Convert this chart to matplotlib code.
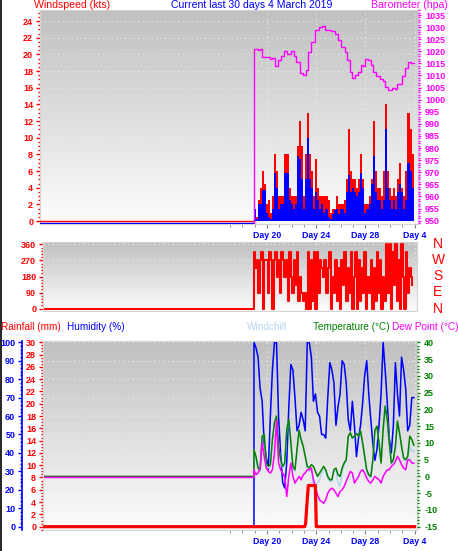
import numpy as np
import matplotlib.pyplot as plt
from matplotlib.colors import LinearSegmentedColormap
from matplotlib.lines import Line2D
from matplotlib.ticker import MultipleLocator, FixedLocator, FormatStrFormatter

plt.rcParams['font.family'] = ['Liberation Sans', 'DejaVu Sans']
plt.rcParams['font.weight'] = 'bold'

# Eje X en dias (20 = 20 feb, 32 = 4 marzo)
day_ticks = [20, 24, 28, 32]
day_labels = ['Day 20', 'Day 24', 'Day 28', 'Day 4']
day_minor = list(range(17, 33))

# Viento (kts), un valor cada 4 horas desde el inicio de datos
wind_start = 18.92
gust_kts = [1.5, 0.5, 2.5, 4, 6, 4.5, 2, 2.5, 1, 3,
            8, 6, 3, 3, 3, 8, 8, 4, 3, 3,
            3, 9, 12, 9, 3, 8, 13, 8, 6, 3,
            7.5, 4, 3, 3, 3, 3, 2.5, 1, 1.5, 1.5,
            3, 2, 2, 2, 2.5, 5, 11, 6, 5, 5,
            4, 5, 8, 5, 2, 2, 3, 5, 12, 6,
            4, 4, 3, 6, 14, 6, 4, 3, 4, 3,
            5, 7, 4, 3, 6, 13, 11, 8]
avg_kts = [1.5, 0.3, 2.0, 2.0, 3.7, 3.7, 1.0, 0.5, 0.3, 1.5,
           5.8, 4, 1.5, 2, 2, 5.8, 5.8, 2.5, 2, 1.5,
           2, 7.8, 7.5, 5, 1.5, 5, 10, 5, 4, 1.5,
           3.5, 2.5, 1.5, 2, 1, 1.5, 0.5, 0.3, 0.8, 1.3,
           1.5, 0.8, 1.5, 1.5, 1.0, 3.5, 5.5, 3.5, 4, 3.5,
           3, 3.5, 5.8, 4, 1, 1.5, 2, 4.5, 7.8, 3.5,
           2.5, 2.5, 1.5, 2.5, 11, 4, 2.5, 1.5, 2.5, 1.5,
           3.5, 4.5, 3.5, 1.5, 2.5, 7, 6, 4]

# Barometro (hpa)
baro_days = [1.0, 18.92, 18.92, 19.27, 19.46, 19.62, 19.95, 20.22, 20.41, 20.68,
             20.89, 21.17, 21.38, 21.65, 21.98, 22.2, 22.38, 22.66, 22.93, 23.2,
             23.33, 23.6, 23.93, 24.2, 24.47, 24.69, 24.96, 25.23, 25.5, 25.77,
             26.04, 26.31, 26.53, 26.72, 26.91, 27.13, 27.4, 27.62, 27.8, 27.99,
             28.21, 28.43, 28.62, 28.89, 29.16, 29.43, 29.62, 29.84, 30.16, 30.38,
             30.6, 30.79, 30.98, 31.19, 31.46, 31.73, 31.95]
baro_hpa = [0, 0, 1020.8, 1020.5, 1020.8, 1017.8, 1017.5, 1016.7, 1017.1, 1013.9,
            1016.4, 1018.1, 1020.3, 1018.8, 1020.1, 1018.1, 1015.7, 1010.9, 1010.2, 1012.3,
            1019.8, 1024.0, 1028.8, 1030.2, 1030.6, 1028.6, 1028.8, 1028.2, 1027.2, 1024.7,
            1021.9, 1019.8, 1016.4, 1011.6, 1008.8, 1010.2, 1011.6, 1014.3, 1013.9, 1016.7,
            1016.4, 1014.3, 1011.6, 1009.8, 1008.5, 1007.9, 1005.4, 1004.0, 1004.7, 1004.4,
            1006.5, 1006.4, 1009.6, 1013.0, 1015.7, 1015.0, 1015.0]

# Direccion del viento (grados), un valor cada 3 horas
dir_start = 18.92
wind_dir = [315, 225, 270, 90, 270, 315, 0, 270,
            270, 90, 315, 270, 0, 270, 315, 180,
            270, 90, 315, 270, 180, 270, 45, 315,
            180, 90, 270, 135, 315, 45, 180, 90,
            45, 90, 0, 315, 0, 270, 45, 315,
            0, 315, 90, 270, 225, 180, 270, 90,
            225, 315, 0, 180, 90, 270, 45, 225,
            0, 270, 135, 315, 45, 225, 90, 315,
            0, 180, 315, 0, 270, 45, 225, 90,
            315, 0, 180, 90, 270, 0, 225, 45,
            315, 90, 270, 0, 180, 45, 360, 90,
            360, 0, 315, 135, 360, 45, 270, 0,
            360, 180, 0, 315, 90, 225, 180, 135]

# Humedad (%), temperatura, punto de rocio y sensacion termica (C), cada 4 horas
met_start = 18.94
humidity = [100, 97, 92, 75, 68, 45, 38, 31, 60, 85,
            100, 100, 60, 40, 24, 21, 35, 65, 88, 85,
            70, 52, 55, 62, 58, 52, 100, 100, 92, 68,
            72, 62, 60, 50, 50, 48, 70, 89, 85, 78,
            55, 65, 72, 90, 88, 78, 58, 52, 68, 55,
            38, 48, 55, 67, 82, 90, 72, 58, 45, 36,
            42, 55, 72, 100, 85, 68, 48, 40, 55, 89,
            72, 60, 92, 85, 75, 52, 55, 70, 70]
temperature = [7.9, 5.9, 2.5, 2.0, 12.0, 12.5, 4.0, 3.0, 3.5, 11.0,
               16.0, 18.0, 9.0, 5.0, 3.0, 4.0, 14.0, 17.0, 10.0, 3.0,
               2.0, 8.0, 13.8, 11.0, 9.0, 6.0, 3.0, 2.5, 3.5, 3.0,
               1.5, 0.0, 1.0, 2.0, 3.0, 2.0, 0.0, -1.0, -1.0, 2.0,
               2.5, 0.5, 0.0, 2.5, 4.0, 5.0, 12.0, 13.0, 11.5, 12.0,
               12.8, 12.0, 13.5, 10.0, 6.0, 2.0, 0.5, 0.0, 5.0, 13.8,
               15.0, 10.0, 4.0, 14.0, 21.0, 17.0, 10.0, 4.0, 5.0, 9.0,
               16.5, 13.0, 9.0, 5.5, 5.0, 6.0, 12.0, 11.0, 9.3]
dew_point = [2.0, 0.5, 1.0, 2.5, 10.0, 6.0, 2.5, 1.5, 1.0, 2.0,
             7.0, 16.8, 4.0, 2.0, 1.0, 0.0, -6.0, 0.0, 4.0, 0.0,
             -2.0, -1.0, 0.0, -1.0, 0.5, 1.0, 2.0, 2.0, 2.5, -1.0,
             -3.0, -5.5, -7.0, -7.5, -8.0, -7.0, -5.0, -4.0, -3.5, -4.0,
             -5.0, -6.0, -4.5, -4.0, -3.0, -1.5, 0.0, 1.5, 1.0, -2.0,
             -1.0, 0.0, 1.5, 2.0, 1.0, -0.5, -1.5, -2.0, -1.0, 0.0,
             -0.5, -1.0, -2.0, 0.0, 1.0, 2.0, 2.0, 3.0, 3.5, 4.5,
             6.0, 5.0, 3.5, 2.5, 2.0, 4.9, 5.0, 4.0, 3.9]
windchill = [7.9, 5.0, 2.0, 1.5, 12.0, 12.5, 3.5, 2.5, 3.0, 11.0,
             16.0, 18.0, 9.0, 4.5, 2.5, 4.0, 14.0, 17.0, 10.0, 2.5,
             1.5, 8.0, 13.8, 11.0, 9.0, 6.0, 2.5, 1.5, 2.0, -2.5,
             -3.0, -2.0, -1.0, 1.0, 2.5, 1.5, -0.5, -1.5, -1.5, 1.5,
             2.0, -2.0, -3.0, 1.5, 3.5, 4.5, 12.0, 13.0, 11.0, 12.0,
             12.8, 12.0, 13.5, 10.0, 5.5, 1.5, 0.0, -0.5, 4.5, 13.8,
             15.0, 10.0, 3.5, 14.0, 21.0, 17.0, 10.0, 3.5, 4.5, 9.0,
             16.5, 13.0, 9.0, 5.0, 4.5, 5.5, 9.0, 7.5, 7.5]

# Lluvia (mm)
rain_days = [1.0, 23.06, 23.14, 23.25, 23.36, 23.93, 24.01, 32.0]
rain_mm = [0, 0, 0.5, 3.8, 6.7, 6.7, 0, 0]

# Colores
RED = '#ff0000'
BLUE = '#0000ff'
MAGENTA = '#ff00ff'
GREEN = '#008000'
CHILL = '#b4d4f4'
FRAME = '#d4d4d4'

W, H = 458, 551
PT = 72 / 100  # puntos por pixel
fig = plt.figure(figsize=(W / 100, H / 100), dpi=100)

# Escala horizontal del original: Day 20 en x=267 px, 12.3 px por dia
def px_to_day(x):
    return 20 + (x - 267) / 12.3

def axes_px(left, top, right, bottom):
    ax = fig.add_axes([left / W, 1 - bottom / H, (right - left) / W, (bottom - top) / H])
    return ax

grad = LinearSegmentedColormap.from_list('grad', ['#c0c0c0', '#fdfdfd'])

def background(ax):
    ax.imshow(np.linspace(0, 1, 256).reshape(-1, 1), extent=[0, 1, 0, 1],
              transform=ax.transAxes, aspect='auto', cmap=grad, zorder=0)
    ax.set_axisbelow(True)
    for s in ax.spines.values():
        s.set_color(FRAME)

def x_axis(ax, left, right, labels):
    ax.set_xlim(px_to_day(left), px_to_day(right))
    ax.xaxis.set_major_locator(FixedLocator(day_ticks))
    ax.xaxis.set_minor_locator(FixedLocator(day_minor))
    ax.tick_params(axis='x', which='major', colors='#808080', length=4 * PT, pad=2,
                   labelsize=6.3, labelcolor=BLUE)
    ax.tick_params(axis='x', which='minor', colors='#808080', length=3 * PT)
    if labels:
        ax.set_xticklabels(day_labels)
    else:
        ax.tick_params(axis='x', which='both', length=0, labelbottom=False)
    ax.grid(axis='x', which='major', color='#eeeeee', linestyle=(0, (1, 3)), linewidth=0.8)

def y_axis(ax, color, major, minor):
    ax.yaxis.set_major_locator(MultipleLocator(major))
    ax.yaxis.set_minor_locator(MultipleLocator(minor))
    ax.yaxis.set_major_formatter(FormatStrFormatter('%d'))
    ax.tick_params(axis='y', which='major', colors=color, length=4 * PT, width=1, pad=2,
                   labelsize=6.5)
    ax.tick_params(axis='y', which='minor', colors=color, length=2 * PT, width=1)

def hgrid(ax):
    ax.grid(axis='y', which='major', color='#eeeeee', linestyle=(0, (1, 3)), linewidth=0.8)

# ---------- Panel superior: viento y barometro ----------
ax_w = axes_px(40, 10, 418, 224)
background(ax_w)
wind_days = wind_start + np.arange(len(gust_kts)) / 6
ax_w.bar(wind_days, gust_kts, width=1 / 6, align='edge', color=RED, linewidth=0, zorder=2)
ax_w.bar(wind_days, avg_kts, width=1 / 6, align='edge', color=BLUE, linewidth=0, zorder=3)
ax_w.plot([1.0, wind_start], [-0.28, -0.28], color=BLUE, lw=1, zorder=3)
ax_w.plot([1.0, wind_start], [0, 0], color=RED, lw=1, zorder=3)
x_axis(ax_w, 40, 418, True)
ax_w.set_ylim(-0.36, 25.33)
y_axis(ax_w, RED, 2, 0.5)
hgrid(ax_w)

ax_b = ax_w.twinx()
ax_b.plot(baro_days, baro_hpa, color=MAGENTA, lw=1, drawstyle='steps-post')
ax_b.set_ylim(948.6, 1037.07)
y_axis(ax_b, MAGENTA, 5, 1)
ax_b.tick_params(axis='y', which='major', length=3 * PT, pad=3)
for s in ax_b.spines.values():
    s.set_visible(False)

# ---------- Panel de direccion ----------
ax_d = axes_px(43, 242, 417, 311)
background(ax_d)
dir_days = dir_start + np.arange(len(wind_dir)) / 8
ax_d.plot(np.concatenate([[1.0, dir_start], dir_days]),
          np.concatenate([[0, 0], wind_dir]), color=RED, lw=1.5, drawstyle='steps-post', zorder=2)
x_axis(ax_d, 43, 417, False)
ax_d.set_ylim(-12.9, 372.9)
y_axis(ax_d, RED, 90, 18)
hgrid(ax_d)
for lbl, y in zip(['N', 'W', 'S', 'E', 'N'], [244, 260, 276, 292, 309]):
    fig.text(438 / W, 1 - y / H, lbl, color=RED, fontsize=10, fontweight='normal',
             ha='center', va='center')

# ---------- Panel inferior: lluvia, humedad, temperatura ----------
ax_h = axes_px(43, 341, 417, 530)
background(ax_h)
met_days = met_start + np.arange(len(humidity)) / 6
pre_x = [1.0, met_start]
ax_h.plot(np.concatenate([pre_x, met_days]), np.concatenate([[0, 0], humidity]),
          color=BLUE, lw=1.1, zorder=2)
x_axis(ax_h, 43, 417, True)
ax_h.set_ylim(-1.79, 100.7)
y_axis(ax_h, BLUE, 10, 2)
ax_h.spines['left'].set_position(('outward', 21 * PT))
ax_h.spines['left'].set_color(BLUE)
ax_h.spines['left'].set_linewidth(1.2)
hgrid(ax_h)

ax_t = ax_h.twinx()
ax_t.plot(np.concatenate([pre_x, met_days]), np.concatenate([[0, 0], windchill]),
          color=CHILL, lw=1.1, zorder=2)
ax_t.plot(np.concatenate([pre_x, met_days]), np.concatenate([[0, 0], temperature]),
          color=GREEN, lw=1.1, zorder=3)
ax_t.plot(np.concatenate([pre_x, met_days]), np.concatenate([[-0.3, -0.3], dew_point]),
          color=MAGENTA, lw=1.1, zorder=4)
ax_t.set_ylim(-15.98, 40.39)
y_axis(ax_t, GREEN, 5, 1)
ax_t.tick_params(axis='y', which='major', length=3 * PT, pad=3)
for s in ax_t.spines.values():
    s.set_visible(False)

ax_r = ax_h.twinx()
ax_r.yaxis.tick_left()
ax_r.plot(rain_days, rain_mm, color=RED, lw=2.3, zorder=5)
ax_r.set_ylim(-0.54, 30.2)
y_axis(ax_r, RED, 2, 0.5)
for s in ax_r.spines.values():
    s.set_visible(False)
ax_r.spines['left'].set_visible(True)
ax_r.spines['left'].set_color(FRAME)

# ---------- Textos ----------
def header(x, y, txt, color, ha='left', size=7.6):
    fig.text(x / W, 1 - y / H, txt, color=color, fontsize=size, fontweight='normal',
             ha=ha, va='center')

header(34, 5, 'Windspeed (kts)', RED)
header(252, 5, 'Current last 30 days 4 March 2019', BLUE, ha='center')
header(371, 5, 'Barometer (hpa)', MAGENTA)
header(1, 327, 'Rainfall (mm)', RED, size=7.2)
header(67, 327, 'Humidity (%)', BLUE, size=7.2)
header(247, 327, 'Windchill', CHILL, size=7.2)
header(313, 327, 'Temperature (°C)', GREEN, size=7.2)
header(392, 327, 'Dew Point (°C)', MAGENTA, size=7.2)

fig.add_artist(Line2D([0.6 / W, 0.6 / W], [0, 1], color='black', lw=1.2))

fig.savefig('out.png', dpi=100)
